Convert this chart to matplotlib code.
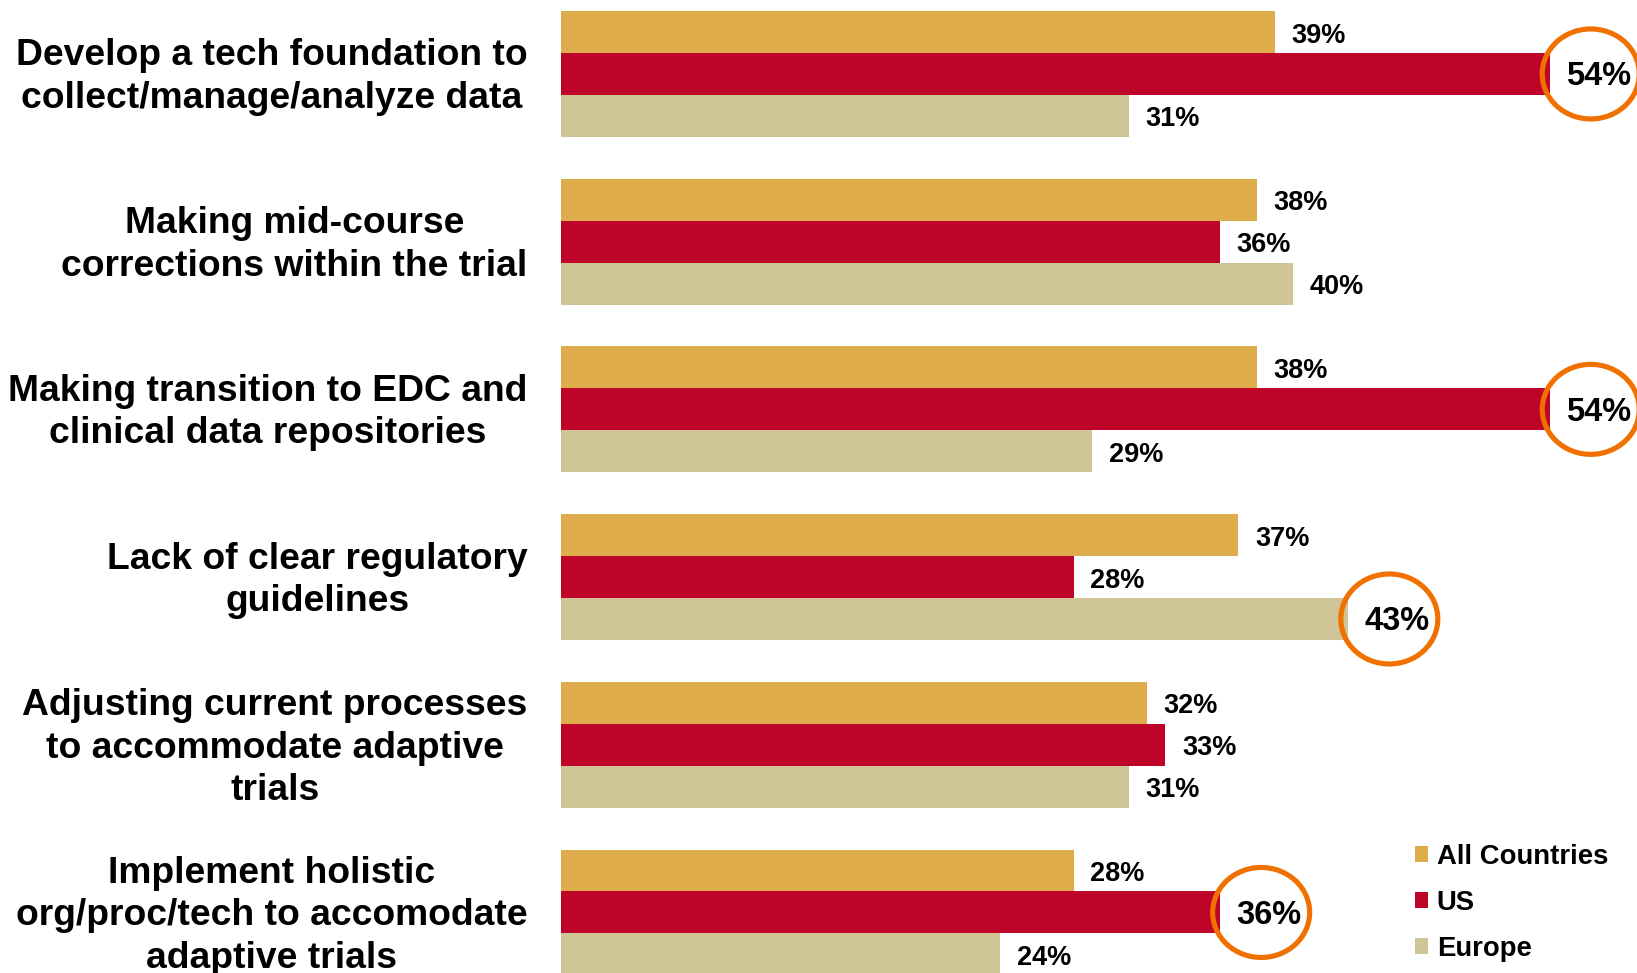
import numpy as np
import matplotlib.pyplot as plt
from matplotlib.patches import Ellipse
from matplotlib.transforms import ScaledTranslation

categories = [
    "Develop a tech foundation to\ncollect/manage/analyze data",
    "Making mid-course\ncorrections within the trial",
    "Making transition to EDC and\nclinical data repositories",
    "Lack of clear regulatory\nguidelines",
    "Adjusting current processes\nto accommodate adaptive\ntrials",
    "Implement holistic\norg/proc/tech to accomodate\nadaptive trials",
]
series_names = ["All Countries", "US", "Europe"]
all_countries = [39, 38, 38, 37, 32, 28]
us = [54, 36, 54, 28, 33, 36]
europe = [31, 40, 29, 43, 31, 24]
# (series index, category index) of the circled values
highlights = [(1, 0), (1, 2), (2, 3), (1, 5)]

colors = ["#DEAC4B", "#BE0428", "#D0C596"]
ring = "#F07000"

plt.rcParams['font.family'] = ['Liberation Sans', 'DejaVu Sans']
plt.rcParams['font.weight'] = 'bold'

fig = plt.figure(figsize=(16.37, 9.73), dpi=100)
x0 = 561
ax = fig.add_axes([x0 / 1637, 0, 1 - x0 / 1637, 1])

y = np.arange(len(categories))
h = 0.25
values = [all_countries, us, europe]
for s, (vals, col, name) in enumerate(zip(values, colors, series_names)):
    pos = y + (s - 1) * h
    ax.barh(pos, vals, height=h, color=col, label=name)
    for i, (p, v) in enumerate(zip(pos, vals)):
        if (s, i) in highlights:
            ax.annotate(f"{v}%", (v, p), xytext=(11.5, -2), textcoords="offset points",
                        ha="left", va="center", fontsize=23.5, fontweight="bold")
            tr = fig.dpi_scale_trans + ScaledTranslation(v, p, ax.transData)
            ax.add_patch(Ellipse((0.41, 0), 0.97, 0.90, transform=tr, fc="none",
                                 ec=ring, lw=3.7, clip_on=False))
        else:
            ax.annotate(f"{v}%", (v, p), xytext=(12, -2.5), textcoords="offset points",
                        ha="left", va="center", fontsize=19.5, fontweight="bold")

ax.set_xlim(0, (1637 - x0) / 18.31)
ax.set_ylim(5.361, -0.441)
ax.set_yticks(y)
ax.set_yticklabels(categories, fontsize=26.8, fontweight="bold", ha="right",
                   multialignment="center", linespacing=1.28)
ax.tick_params(axis="y", length=0, pad=24)
for lab in ax.get_yticklabels():
    lab.set_transform(lab.get_transform() + ScaledTranslation(0, 0.045, fig.dpi_scale_trans))
ax.set_xticks([])
for sp in ax.spines.values():
    sp.set_visible(False)

ax.legend(loc="lower right", bbox_to_anchor=(0.991, -0.008), frameon=False,
          prop=dict(size=19.8, weight="bold"), handlelength=0.5, handleheight=0.5,
          handletextpad=0.3, labelspacing=0.72, borderaxespad=0.3)

fig.savefig("out.png", dpi=100)
